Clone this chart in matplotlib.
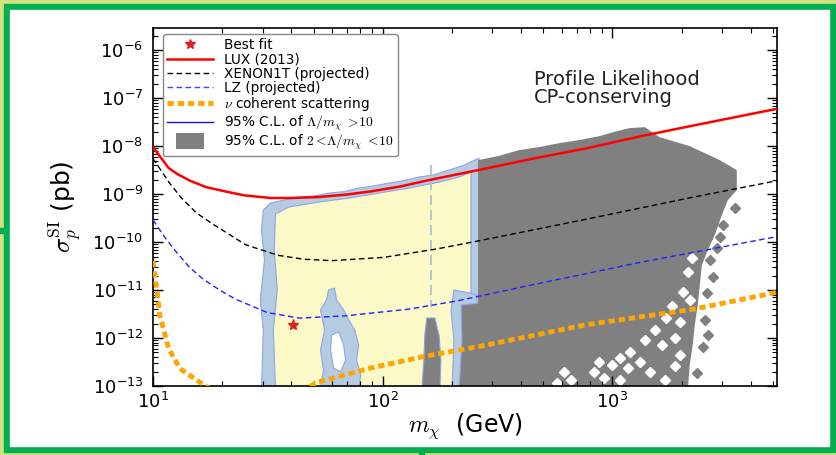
import numpy as np
import matplotlib
matplotlib.use("Agg")
import matplotlib.pyplot as plt
from matplotlib.patches import Rectangle
from matplotlib.lines import Line2D
from matplotlib.legend_handler import HandlerPatch
from matplotlib.ticker import LogLocator, NullFormatter

plt.rcParams['font.family'] = ['DejaVu Sans']
plt.rcParams['mathtext.fontset'] = 'cm'

# ---------------- data ----------------
lux_m = [10, 11.7, 12.8, 14.5, 17, 20.4, 25, 32.5, 40, 52.7, 70, 90, 120, 154, 263,
         452, 770, 1320, 2260, 5200]
lux_s = [9.5e-9, 3.5e-9, 2.6e-9, 1.9e-9, 1.4e-9, 1.15e-9, 9.4e-10, 8.3e-10, 8.3e-10,
         8.7e-10, 9.8e-10, 1.15e-9, 1.45e-9, 1.9e-9, 3.2e-9, 5.5e-9, 9e-9, 1.6e-8,
         2.7e-8, 6e-8]

xenon_m = [10, 10.5, 11.8, 13.3, 15.5, 18.4, 25.3, 35, 45, 60, 101, 172, 264, 770,
           2260, 5200]
xenon_s = [5.5e-9, 3.9e-9, 1.7e-9, 8.3e-10, 4e-10, 2.3e-10, 8.8e-11, 5.3e-11,
           4.4e-11, 4.1e-11, 4.8e-11, 7.2e-11, 1.07e-10, 3e-10, 8.7e-10, 1.9e-9]

lz_m = [10, 11.2, 12.6, 14.4, 16.5, 19.5, 22.8, 31.4, 43.3, 68.6, 130, 213, 452,
        1330, 5200]
lz_s = [2.9e-10, 1.3e-10, 6.3e-11, 3e-11, 1.7e-11, 1e-11, 6.5e-12, 3.4e-12,
        2.6e-12, 2.9e-12, 4e-12, 6e-12, 1.3e-11, 3.8e-11, 1.3e-10]

nu_m = [10, 10.4, 10.7, 11.7, 13.1, 16.9, 22, 30, 40, 52, 89.6, 154, 264, 770,
        2260, 5200]
nu_s = [4e-11, 1e-11, 3e-12, 6e-13, 2.3e-13, 1e-13, 5e-14, 4e-14, 6e-14, 1.2e-13,
        2.4e-13, 4.2e-13, 6.7e-13, 1.9e-12, 4e-12, 9e-12]

best_m = [40.6]
best_s = [1.9e-12]

# 95% C.L. region for Lambda/m > 10 (log10 of mass, log10 of sigma)
blue_logm = [1.480, 1.511, 1.568, 1.633, 1.700, 1.764, 1.830, 1.895, 1.960, 2.026,
             2.090, 2.157, 2.220, 2.288, 2.354, 2.419, 2.419, 1.472, 1.480, 1.467,
             1.485, 1.472]
blue_logs = [-9.333, -9.188, -9.125, -9.063, -9.04, -8.979, -8.95, -8.875, -8.83,
             -8.771, -8.72, -8.646, -8.60, -8.5, -8.396, -8.25, -13.08, -13.08,
             -11.833, -11.208, -10.375, -9.75]

yellow_logm = [1.533, 1.590, 1.721, 1.852, 1.983, 2.114, 2.245, 2.332, 2.384, 2.384,
               1.533, 1.524, 1.541, 1.528]
yellow_logs = [-9.417, -9.271, -9.167, -9.083, -8.979, -8.875, -8.75, -8.646, -8.542,
               -13.08, -13.08, -11.833, -11.0, -10.167]

island_logm = [1.764, 1.790, 1.799, 1.830, 1.852, 1.878, 1.895, 1.886, 1.904, 1.895,
               1.729, 1.742, 1.729, 1.747, 1.729, 1.755]
island_logs = [-11.0, -10.958, -11.208, -11.417, -11.625, -11.833, -12.146, -12.458,
               -12.771, -13.08, -13.08, -12.667, -12.25, -11.833, -11.417, -11.208]

hole_logm = [1.777, 1.808, 1.830, 1.838, 1.817, 1.786, 1.773]
hole_logs = [-11.938, -11.875, -12.146, -12.458, -12.708, -12.625, -12.25]

vline_logm = [2.21, 2.21]
vline_logs = [-8.40, -11.35]

strip_logm = [2.192, 2.227, 2.245, 2.253, 2.249, 2.170, 2.179, 2.183]
strip_logs = [-11.583, -11.583, -11.938, -12.458, -13.08, -13.08, -12.458, -11.938]

rstrip_logm = [2.310, 2.358, 2.410, 2.410, 2.301, 2.310, 2.297]
rstrip_logs = [-11.0, -11.042, -11.104, -13.08, -13.08, -12.042, -11.417]

rgray_logm = [2.341, 2.419, 2.419, 2.332, 2.345]
rgray_logs = [-11.313, -11.271, -13.08, -13.08, -12.042]

# 95% C.L. region for 2 < Lambda/m < 10
gray_logm = [2.415, 2.500, 2.594, 2.680, 2.769, 2.860, 2.943, 3.010, 3.074, 3.140,
             3.205, 3.336, 3.467, 3.541, 3.541, 3.502, 3.476, 3.445, 3.415, 3.389,
             3.380, 3.371, 3.358, 3.349, 3.336, 3.328, 2.415]
gray_logs = [-8.292, -8.21, -8.083, -8.02, -7.9375, -7.87, -7.792, -7.70, -7.625,
             -7.604, -7.8125, -8.0, -8.292, -8.5, -8.917, -9.125, -9.4375, -9.854,
             -10.167, -10.479, -10.896, -11.3125, -11.729, -12.146, -12.5625,
             -13.08, -13.08]

holes_logm = [3.345, 3.328, 3.306, 3.336, 3.258, 3.231, 3.293, 3.183, 3.271, 3.140,
              3.214, 3.074, 3.031, 2.996, 3.066, 3.118, 2.943, 2.921, 2.965, 3.031,
              2.790, 2.821, 2.760, 3.162, 3.227, 3.271, 3.293]
holes_logs = [-10.333, -10.625, -11.042, -11.208, -11.333, -11.583, -11.667, -11.833,
              -12.0, -12.042, -12.146, -12.292, -12.417, -12.5625, -12.625, -12.5,
              -12.5, -12.708, -12.833, -12.875, -12.708, -12.875, -12.9375, -12.708,
              -12.875, -12.583, -12.354]

dots_logm = [3.533, 3.480, 3.467, 3.454, 3.424, 3.437, 3.410, 3.402, 3.393, 3.367, 3.415]
dots_logs = [-9.292, -9.646, -9.896, -10.125, -10.375, -10.729, -11.0625, -11.625,
             -12.1875, -12.729, -11.9375]

legend_labels = ['Best fit', 'LUX (2013)', 'XENON1T (projected)', 'LZ (projected)',
                 r'$\nu$ coherent scattering',
                 r'95% C.L. of $\Lambda/m_\chi\ >\!10$',
                 r'95% C.L. of $2<\!\Lambda/m_\chi\ <\!10$']

# ---------------- colours ----------------
c_blue = '#b4cbe2'
c_blue_edge = '#8ea6e4'
c_yellow = '#fbf9c8'
c_gray = '#808080'


def P(lm, ls):
    return 10 ** np.asarray(lm), 10 ** np.asarray(ls)


fig = plt.figure(figsize=(8.37, 4.55), dpi=100)
fig.patch.set_facecolor('#d4e080')
W, H = 837.0, 455.0
fig.add_artist(Rectangle((4 / W, 1 - 452 / H), 831 / W, 448 / H,
                         transform=fig.transFigure, color='#00b050', zorder=0))
fig.add_artist(Rectangle((10 / W, 1 - 446 / H), 819 / W, 436 / H,
                         transform=fig.transFigure, color='white', zorder=0))
fig.add_artist(Rectangle((419 / W, 0), 5 / W, 4 / H,
                         transform=fig.transFigure, color='#00b050', zorder=0))
fig.add_artist(Rectangle((0, 1 - 233 / H), 4 / W, 5 / H,
                         transform=fig.transFigure, color='#00b050', zorder=0))

ax = fig.add_axes([153 / W, 1 - 386 / H, 624 / W, 358 / H])
ax.set_xscale('log')
ax.set_yscale('log')
ax.set_xlim(10, 5200)
ax.set_ylim(1e-13, 2.9e-6)

# regions
x, y = P(blue_logm, blue_logs)
ax.fill(x, y, facecolor=c_blue, edgecolor=c_blue_edge, lw=0.8, zorder=1)
x, y = P(yellow_logm, yellow_logs)
ax.fill(x, y, facecolor=c_yellow, edgecolor=c_blue_edge, lw=0.8, zorder=1.1)
x, y = P(island_logm, island_logs)
ax.fill(x, y, facecolor=c_blue, edgecolor=c_blue_edge, lw=0.8, zorder=1.2)
x, y = P(hole_logm, hole_logs)
ax.fill(x, y, facecolor='white', edgecolor=c_blue_edge, lw=0.8, zorder=1.3)
x, y = P(rstrip_logm, rstrip_logs)
ax.fill(x, y, facecolor=c_blue, edgecolor=c_blue_edge, lw=0.8, zorder=1.2)
x, y = P(rgray_logm, rgray_logs)
ax.fill(x, y, facecolor=c_gray, edgecolor=c_blue_edge, lw=0.8, zorder=1.3)
x, y = P(strip_logm, strip_logs)
ax.fill(x, y, facecolor=c_gray, edgecolor=c_blue_edge, lw=0.8, zorder=1.3)
x, y = P(vline_logm, vline_logs)
ax.plot(x, y, color='#aebbd2', lw=1.2, dashes=(6, 3), zorder=1.3)
x, y = P(gray_logm, gray_logs)
ax.fill(x, y, facecolor=c_gray, edgecolor='none', lw=0, zorder=1.4)
x, y = P(holes_logm, holes_logs)
ax.plot(x, y, ls='none', marker='D', ms=5, mfc='white', mec='white', zorder=1.5)
x, y = P(dots_logm, dots_logs)
ax.plot(x, y, ls='none', marker='D', ms=5, mfc=c_gray, mec=c_gray, zorder=1.5)

# curves
ax.plot(lux_m, lux_s, color='red', lw=1.8, zorder=3)
ax.plot(xenon_m, xenon_s, color='black', lw=1.0, dashes=(4, 2.5), zorder=3)
ax.plot(lz_m, lz_s, color='#2020ff', lw=1.0, dashes=(4, 2.5), zorder=3)
ax.plot(nu_m, nu_s, color='#ffa500', lw=3.5, dashes=(1.3, 0.8), zorder=3)
ax.plot(best_m, best_s, ls='none', marker='*', color='#e02020', ms=8, zorder=4)

# ticks
ax.xaxis.set_major_locator(LogLocator(base=10, numticks=20))
ax.xaxis.set_minor_locator(LogLocator(base=10, subs=np.arange(2, 10), numticks=20))
ax.yaxis.set_major_locator(LogLocator(base=10, numticks=20))
ax.yaxis.set_minor_locator(LogLocator(base=10, subs=np.arange(2, 10), numticks=20))
ax.xaxis.set_minor_formatter(NullFormatter())
ax.yaxis.set_minor_formatter(NullFormatter())
ax.tick_params(which='both', direction='in', top=True, right=True, colors='black')
ax.tick_params(which='major', length=7, width=1.0, labelsize=13)
ax.tick_params(which='minor', length=3.5, width=0.8)
ax.tick_params(axis='y', which='major', pad=7)
ax.tick_params(axis='x', which='major', pad=4)
for s in ax.spines.values():
    s.set_linewidth(1.2)

ax.set_xlabel(r'$m_\chi$  (GeV)', fontsize=17, labelpad=0)
ax.set_ylabel(r'$\sigma_p^{\rm SI}$ (pb)', fontsize=18, labelpad=6)

ax.text(0.611, 0.883, 'Profile Likelihood\nCP-conserving', transform=ax.transAxes,
        ha='left', va='top', fontsize=14, linespacing=0.95, color='#222222')

# legend
handles = [
    Line2D([], [], ls='none', marker='*', color='#e02020', ms=7),
    Line2D([], [], color='red', lw=1.8),
    Line2D([], [], color='black', lw=1.0, dashes=(4, 2.5)),
    Line2D([], [], color='#4040ff', lw=1.0, dashes=(4, 2.5)),
    Line2D([], [], color='#ffa500', lw=3.5, dashes=(1.3, 0.8)),
    Line2D([], [], color='#1010e0', lw=1.0),
    Rectangle((0, 0), 1, 1, facecolor=c_gray, edgecolor='none'),
]


def small_box(legend, orig_handle, xdescent, ydescent, width, height, fontsize):
    return Rectangle((-xdescent + 0.2 * width, -ydescent - 0.35 * height),
                     0.6 * width, 1.7 * height)


leg = ax.legend(handles, legend_labels, loc='upper left',
                bbox_to_anchor=(0.016, 0.983), borderaxespad=0, fontsize=9.8,
                labelspacing=0.02, handlelength=3.4, handletextpad=0.8,
                borderpad=0.3, frameon=True, fancybox=True, framealpha=1,
                handler_map={Rectangle: HandlerPatch(patch_func=small_box)})
leg.get_frame().set_edgecolor('#888888')
leg.get_frame().set_linewidth(1.0)
leg.set_zorder(5)

fig.savefig('out.png', dpi=100, facecolor=fig.get_facecolor())
